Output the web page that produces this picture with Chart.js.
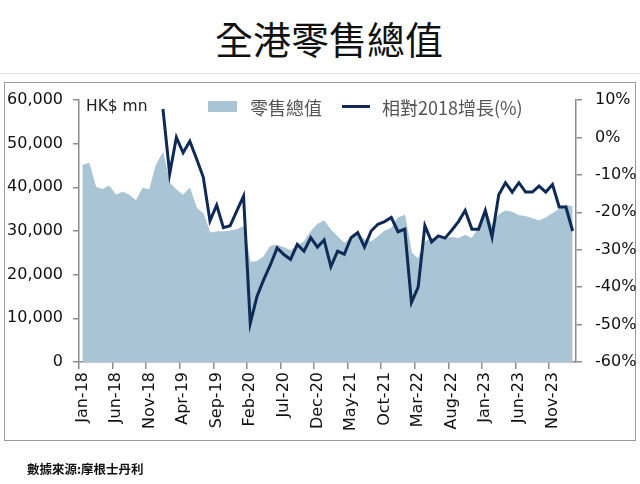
<!DOCTYPE html>
<html>
<head>
<meta charset="utf-8">
<script src="https://cdn.jsdelivr.net/npm/chart.js@4/dist/chart.umd.min.js"></script>
<style>
  body { margin: 0; background: #fff; }
  #page { position: relative; width: 640px; height: 484px; overflow: hidden; }
  .abs { position: absolute; white-space: nowrap; }
  #title { left: 9px; width: 640px; top: 19px; text-align: center; font: 38px/38px "Noto Sans CJK TC", sans-serif; color: #111; }
  #rule { left: 0; top: 73px; width: 640px; height: 1px; background: #e4e4e4; }
  #box { left: 4px; top: 82px; width: 630px; height: 357px; border: 1.5px solid #9a9a9a; }
  .leg { font: 18px/18px "Noto Sans CJK TC", sans-serif; color: #555; top: 98px; }
  #unit { left: 86px; top: 98px; font: 15.5px/16px "DejaVu Sans", sans-serif; color: #222; }
  #source { left: 27px; top: 462px; font: bold 12.5px/14px "Noto Sans CJK TC", serif; color: #111; }
  canvas { position: absolute; left: 0; top: 0; }
</style>
</head>
<body>
<div id="page">
  <div class="abs" id="title">全港零售總值</div>
  <div class="abs" id="rule"></div>
  <div class="abs" id="box"></div>
  <canvas id="chart" width="640" height="484"></canvas>
  <div class="abs" id="unit">HK$ mn</div>
  <div class="abs" style="left:208px;top:101px;width:29px;height:11px;background:#a9c4d4"></div>
  <div class="abs leg" style="left:250px">零售總值</div>
  <div class="abs" style="left:342px;top:105px;width:28px;height:3px;background:#0e2a55"></div>
  <div class="abs leg" style="left:382px">相對2018增長(%)</div>
  <div class="abs" id="source">數據來源:摩根士丹利</div>
</div>
<script>
// month labels Jan-18 .. Feb-24
const monthNames = ['Jan','Feb','Mar','Apr','May','Jun','Jul','Aug','Sep','Oct','Nov','Dec'];
const months = [];
for (let y = 18; y <= 24; y++) {
    monthNames.forEach(m => months.push(m + '-' + y));
}
months.length = 74;

// 零售總值 (HK$ mn)
const retailValue = [
    45000, 45500, 40000, 39500, 40300, 38200, 38900, 38200, 36900, 39800, 39400, 45100,
    47900, 41000, 39400, 38200, 39800, 35200, 34000, 29500, 29800, 29800, 30000, 30300,
    31000, 22800, 23000, 24100, 26500, 26700, 26200, 25500, 26600, 27500, 29800, 31500,
    32300, 30200, 28700, 27200, 28300, 29400, 28000, 27500, 28700, 30000, 30600, 33000,
    33600, 25000, 23600, 27500, 28300, 28300, 28300, 28500, 28300, 29000, 28300, 30600,
    35000, 31000, 33700, 34600, 34300, 33500, 33300, 32800, 32300, 33000, 34000, 35000,
    35900, 35500
];

// 相對2018增長 (%) - starts Jan-19
const growthVs2018 = [
    null, null, null, null, null, null, null, null, null, null, null, null,
    7.6, -9.7, 0, -4.1, -1.0, -5.7, -10.6, -22.3, -18.1, -24.1, -23.6, -19.6,
    -15.7, -49.7, -42.5, -38, -34, -29.5, -31.3, -32.6, -28.6, -30.4, -26.8, -29.3,
    -27.4, -34.5, -30.4, -31.2, -26.8, -25.4, -29.3, -25, -23.2, -22.5, -21.4, -25.2,
    -24.5, -44.1, -40, -23.6, -27.9, -26.3, -26.9, -24.8, -22.5, -19.5, -24.5, -24.5,
    -19.5, -26.6, -15.3, -12.1, -14.6, -12.1, -14.6, -14.6, -13, -14.6, -12.6, -18.6,
    -18.6, -25
];

const axisColor = '#8c8c8c';
const tickFont = { family: 'DejaVu Sans', size: 16 };

new Chart(document.getElementById('chart'), {
    type: 'line',
    data: {
        labels: months,
        datasets: [
            {
                label: '相對2018增長(%)',
                data: growthVs2018,
                yAxisID: 'y1',
                borderColor: '#0e2a55',
                borderWidth: 3,
                pointRadius: 0,
                tension: 0,
                order: 0
            },
            {
                label: '零售總值',
                data: retailValue,
                yAxisID: 'y',
                backgroundColor: '#a9c4d4',
                borderColor: '#a9c4d4',
                borderWidth: 1,
                fill: 'origin',
                pointRadius: 0,
                tension: 0,
                order: 1
            }
        ]
    },
    options: {
        responsive: false,
        animation: false,
        devicePixelRatio: 1,
        layout: { padding: { top: 100, left: 0, right: 0, bottom: 0 } },
        plugins: { legend: { display: false }, tooltip: { enabled: false } },
        scales: {
            x: {
                offset: true,
                grid: {
                    offset: true,
                    drawOnChartArea: false,
                    tickLength: 7,
                    lineWidth: 1.5,
                    color: ctx => ctx.index % 5 === 0 ? axisColor : 'rgba(0,0,0,0)'
                },
                border: { color: axisColor, width: 1.5 },
                ticks: {
                    autoSkip: false,
                    minRotation: 90,
                    maxRotation: 90,
                    padding: 3,
                    color: '#111',
                    font: tickFont,
                    callback: (v, i) => i % 5 === 0 ? months[i] : ''
                },
                afterFit: scale => { scale.height = 122; }
            },
            y: {
                position: 'left',
                min: 0,
                max: 60000,
                grid: { drawOnChartArea: false, tickLength: 6, lineWidth: 1.5, color: axisColor },
                border: { color: axisColor, width: 1.5 },
                ticks: {
                    stepSize: 10000,
                    padding: 10,
                    color: '#111',
                    font: tickFont,
                    callback: v => v.toLocaleString('en-US')
                },
                afterFit: scale => { scale.width = 79; }
            },
            y1: {
                position: 'right',
                min: -60,
                max: 10,
                grid: { drawOnChartArea: false, tickLength: 6, lineWidth: 1.5, color: axisColor },
                border: { color: axisColor, width: 1.5 },
                ticks: {
                    stepSize: 10,
                    padding: 13,
                    color: '#111',
                    font: tickFont,
                    callback: v => v + '%'
                },
                afterFit: scale => { scale.width = 64; }
            }
        }
    }
});
</script>
</body>
</html>
